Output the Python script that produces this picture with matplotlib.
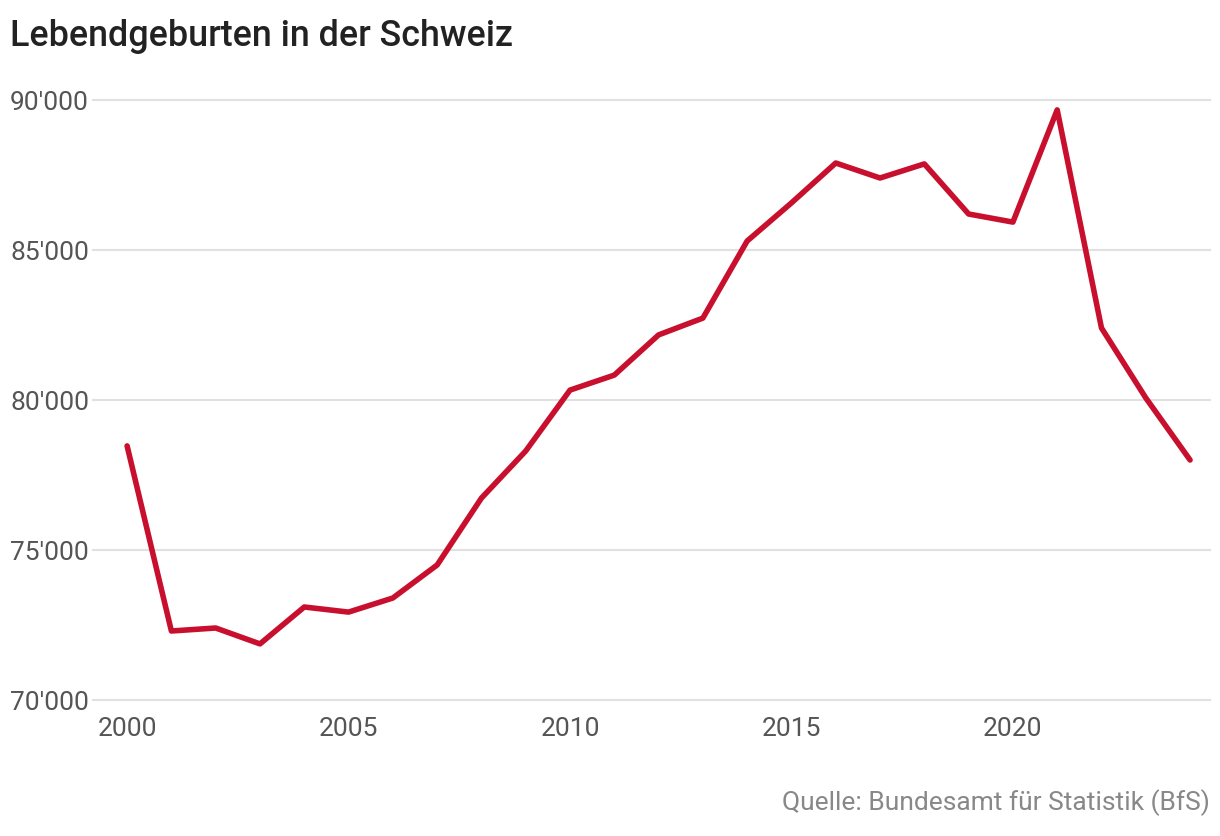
import matplotlib
matplotlib.use("Agg")
import matplotlib.pyplot as plt
from matplotlib.ticker import FuncFormatter

years = list(range(2000, 2025))
births = [78470, 72300, 72400, 71870, 73100, 72930, 73400, 74500, 76730, 78300,
          80330, 80830, 82170, 82730, 85300, 86570, 87900, 87400, 87870, 86200,
          85930, 89670, 82400, 80070, 78000]
y_ticks = [70000, 75000, 80000, 85000, 90000]
x_ticks = [2000, 2005, 2010, 2015, 2020]

title = "Lebendgeburten in der Schweiz"
source = "Quelle: Bundesamt für Statistik (BfS)"

plt.rcParams['font.family'] = ['Roboto', 'DejaVu Sans']

W, H = 1220, 836
fig = plt.figure(figsize=(W / 100, H / 100), dpi=100)
ax = fig.add_axes([93 / W, 1 - 700 / H, (1210 - 93) / W, 600 / H])

ax.plot(years, births, color='#c8102e', lw=4.0, solid_joinstyle='round',
        solid_capstyle='round', zorder=3, clip_on=False)

ax.set_xlim(1999.23, 2024.45)
ax.set_ylim(70000, 90000)
ax.set_yticks(y_ticks)
ax.set_xticks(x_ticks)
ax.yaxis.set_major_formatter(FuncFormatter(lambda v, p: f"{int(v):,}".replace(",", "'")))
ax.grid(axis='y', color='#e1e1e1', lw=1.5, zorder=0)
for g in ax.get_ygridlines():
    g.set_clip_on(False)
for s in ax.spines.values():
    s.set_visible(False)
ax.tick_params(axis='both', length=0, labelsize=19, labelcolor='#555555')
ax.tick_params(axis='x', pad=12)
ax.tick_params(axis='y', pad=(93 - 10) * 0.72)
for lab in ax.get_yticklabels():
    lab.set_horizontalalignment('left')

fig.text(10 / W, 1 - 37 / H, title, fontsize=25.8, fontweight='medium', color='#222222',
         ha='left', va='center')
fig.text(1210 / W, 1 - 803 / H, source, fontsize=19, color='#888888',
         ha='right', va='center')

fig.savefig("out.png", dpi=100)
